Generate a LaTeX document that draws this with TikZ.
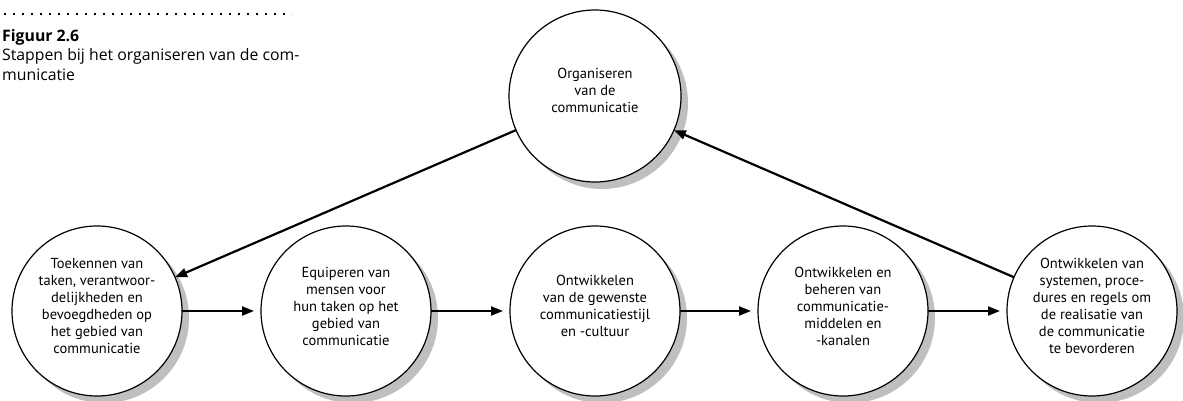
\documentclass[tikz,border=0pt]{standalone}
\usepackage{fontspec}
\setmainfont{Open Sans}
\newfontfamily\handfont{PT Sans}
\usetikzlibrary{arrows.meta,shadows}

\begin{document}
\begin{tikzpicture}[x=1pt,y=1pt,
  stage/.style={circle, draw, line width=1.2pt, fill=white,
    minimum size=170pt, inner sep=0pt, outer sep=0pt,
    drop shadow={shadow xshift=7pt, shadow yshift=-7pt, fill=black!25, opacity=1}},
  stagetext/.style={align=center, inner sep=0pt,
    font=\handfont\fontsize{14.5}{17}\selectfont},
  flow/.style={-{Triangle[length=12pt,width=9pt]}, line width=2.2pt},
  dotrule/.style={line width=1.8pt, dash pattern=on 1.8pt off 7.2pt},
  caption/.style={anchor=north west, align=left, inner sep=0pt,
    font=\fontsize{15.8}{19.5}\selectfont}]
\useasboundingbox (0,0) rectangle (1183,400);

% caption block
\coordinate (d0) at (4,386);
\coordinate (d1) at (292,386);
\draw[dotrule] (d0) -- (d1);
\node[caption] (cap) at (2,371)
  {\textbf{Figuur 2.6}\\Stappen bij het organiseren van de com-\\municatie};

% the cycle of steps: circles
\node[stage, minimum size=172pt] (top) at (595,304) {};
\node[stage] (c1) at (97,89) {};
\node[stage] (c2) at (346,89) {};
\node[stage] (c3) at (595,89) {};
\node[stage] (c4) at (843,89) {};
\node[stage] (c5) at (1092,89) {};

% their texts, set a little above the centre
\node[stagetext] (topt) at ([yshift=6pt]top.center)
  {Organiseren\\van de\\communicatie};
\node[stagetext] (c1t) at ([yshift=5pt]c1.center)
  {Toekennen van\\taken, verantwoor-\\delijkheden en\\bevoegdheden op\\het gebied van\\communicatie};
\node[stagetext] (c2t) at ([yshift=5pt]c2.center)
  {Equiperen van\\mensen voor\\hun taken op het\\gebied van\\communicatie};
\node[stagetext] (c3t) at ([yshift=5pt]c3.center)
  {Ontwikkelen\\van de gewenste\\communicatiestijl\\en -cultuur};
\node[stagetext] (c4t) at ([yshift=5pt]c4.center)
  {Ontwikkelen en\\beheren van\\communicatie-\\middelen en\\-kanalen};
\node[stagetext] (c5t) at ([yshift=5pt]c5.center)
  {Ontwikkelen van\\systemen, proce-\\dures en regels om\\de realisatie van\\de communicatie\\te bevorderen};

% connectors
\draw[flow] (top) -- (c1);
\draw[flow, shorten >=7pt] (c1) -- (c2);
\draw[flow, shorten >=7pt] (c2) -- (c3);
\draw[flow, shorten >=7pt] (c3) -- (c4);
\draw[flow, shorten >=7pt] (c4) -- (c5);
\draw[flow] (c5) -- (top);
\end{tikzpicture}
\end{document}
